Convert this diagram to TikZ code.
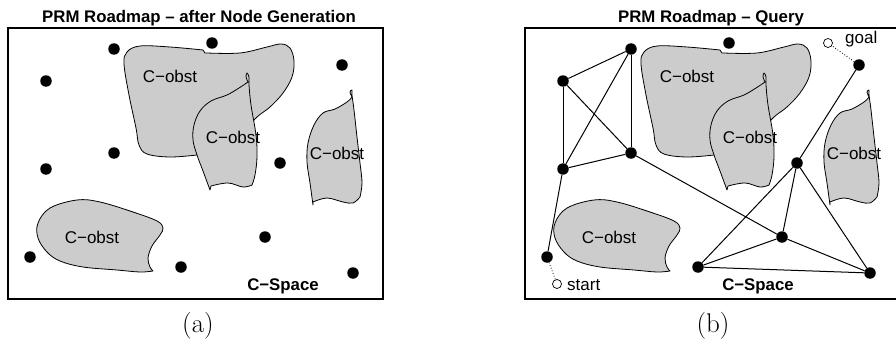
\documentclass[tikz,border=0pt]{standalone}
\usepackage{fontspec}
\setsansfont{Liberation Sans}
\definecolor{obstgray}{RGB}{204,204,204}
\tikzset{
  obst/.style={fill=obstgray, draw=black, line width=0.8pt, line join=round},
  vertex/.style={circle, fill=black, inner sep=0pt, minimum size=11.5pt},
  endpt/.style={circle, draw=black, fill=white, line width=0.7pt, inner sep=0pt, minimum size=9pt},
  lbl/.style={font=\sffamily\fontsize{17}{20}\selectfont, inner sep=0pt, anchor=base},
  boldlbl/.style={font=\sffamily\bfseries\fontsize{16.8}{20}\selectfont, inner sep=0pt, anchor=base},
  frame/.style={draw=black, line width=2pt},
  edge/.style={draw=black, line width=1pt},
  hint/.style={draw=black, line width=0.8pt, dotted},
  caption/.style={font=\fontsize{27}{32}\selectfont, inner sep=0pt},
}
% Four configuration-space obstacles with their labels; #1 is a name prefix
\newcommand\cspaceobstacles[1]{%
  % large obstacle at the top
  \path[obst] plot[smooth, tension=0.6] coordinates {(197,155) (170,157) (147,154) (139,145) (136,128) (129,95) (124,64) (127,52) (140,46) (170,47) (203,50)}
    -- (205,53)
    -- plot[smooth, tension=0.6] coordinates {(207,53) (240,53) (267,47) (281,44) (290,48) (294,61) (292,77) (283,93) (270,107) (257,117) (235,138) (197,155)} -- cycle;
  % overlapping obstacle in the middle
  \path[obst] plot[smooth, tension=0.6] coordinates {(248,82) (239,88) (227,95) (211,101) (200,111) (194,125) (193,140) (197,155) (203,171) (210,190)}
    -- plot[smooth, tension=0.6] coordinates {(211,186) (228,183) (243,187) (252,185)}
    -- plot[smooth, tension=0.6] coordinates {(252,185) (255,175) (257,157) (256,135) (251,105) (249,85) (249,77) (247,73) (246,77) (248,82)} -- cycle;
  % obstacle on the right
  \path[obst] plot[smooth, tension=0.6] coordinates {(352,97) (347,102) (335,109) (323,113) (314,125) (308,143) (307,162) (310,183) (313,205)}
    -- plot[smooth, tension=0.6] coordinates {(313,202) (327,198) (343,202) (353,203) (360,197)}
    -- plot[smooth, tension=0.6] coordinates {(360,197) (362,183) (360,163) (357,137) (354,110) (352,95) (352,90) (350,92) (352,97)} -- cycle;
  % obstacle at the bottom left
  \path[obst] plot[smooth, tension=0.6] coordinates {(153,271) (140,272) (117,270) (83,267) (60,261) (47,252) (38,238) (38,223) (50,208) (77,200) (100,202) (133,212) (157,221) (163,228) (160,235) (152,246) (148,258) (150,267) (153,271)} -- cycle;
  \node[lbl] (#1-obstA) at (170,82) {C−obst};
  \node[lbl] (#1-obstB) at (233,143.5) {C−obst};
  \node[lbl] (#1-obstC) at (337,159.5) {C−obst};
  \node[lbl] (#1-obstD) at (92,243) {C−obst};
}
% Sampled configurations
\newcommand\cspacesamples[1]{%
  \node[vertex] (#1-a) at (114,49) {};
  \node[vertex] (#1-b) at (46,81) {};
  \node[vertex] (#1-c) at (114,153) {};
  \node[vertex] (#1-d) at (46,169) {};
  \node[vertex] (#1-e) at (212,43) {};
  \node[vertex] (#1-f) at (342,65) {};
  \node[vertex] (#1-g) at (280,163) {};
  \node[vertex] (#1-h) at (265,237) {};
  \node[vertex] (#1-i) at (30,257) {};
  \node[vertex] (#1-j) at (181,267) {};
  \node[vertex] (#1-k) at (353,273) {};
}
\begin{document}
\begin{tikzpicture}[x=1pt, y=-1pt]
  \useasboundingbox (0,0) rectangle (896,345);

  % (a) roadmap after node generation
  \node[boldlbl] (titleA) at (199,23) {PRM Roadmap – after Node Generation};
  \path[frame] (8,28) rectangle (383,299);
  \cspaceobstacles{L}
  \cspacesamples{L}
  \node[boldlbl] (spaceA) at (283,290) {C−Space};
  \node[caption] (capA) at (198,326) {(a)};

  % (b) roadmap used for a query
  \node[boldlbl] (titleB) at (711,23) {PRM Roadmap – Query};
  \path[frame] (896,28) -- (525,28) -- (525,299) -- (896,299);
  \begin{scope}[xshift=517pt]
    \cspaceobstacles{R}
    \cspacesamples{R}
  \end{scope}
  \node[boldlbl] (spaceB) at (758,290) {C−Space};
  \node[caption] (capB) at (713,326) {(b)};

  % roadmap edges
  \draw[edge] (R-b) -- (R-a);
  \draw[edge] (R-b) -- (R-d);
  \draw[edge] (R-b) -- (R-c);
  \draw[edge] (R-a) -- (R-d);
  \draw[edge] (R-a) -- (R-c);
  \draw[edge] (R-d) -- (R-c);
  \draw[edge] (R-d) -- (R-i);
  \draw[edge] (R-c) -- (R-h);
  \draw[edge] (R-f) -- (R-g);
  \draw[edge] (R-g) -- (R-j);
  \draw[edge] (R-g) -- (R-h);
  \draw[edge] (R-g) -- (R-k);
  \draw[edge] (R-h) -- (R-j);
  \draw[edge] (R-h) -- (R-k);
  \draw[edge] (R-j) -- (R-k);

  % query configurations connected to the roadmap
  \node[endpt] (start) at (557,284) {};
  \node[lbl, anchor=base west] (startlbl) at (567,290) {start};
  \node[endpt] (goal) at (828,43) {};
  \node[lbl, anchor=base west] (goallbl) at (845,44) {goal};
  \draw[hint] (R-i) -- (start);
  \draw[hint] (R-f) -- (goal);
\end{tikzpicture}
\end{document}
